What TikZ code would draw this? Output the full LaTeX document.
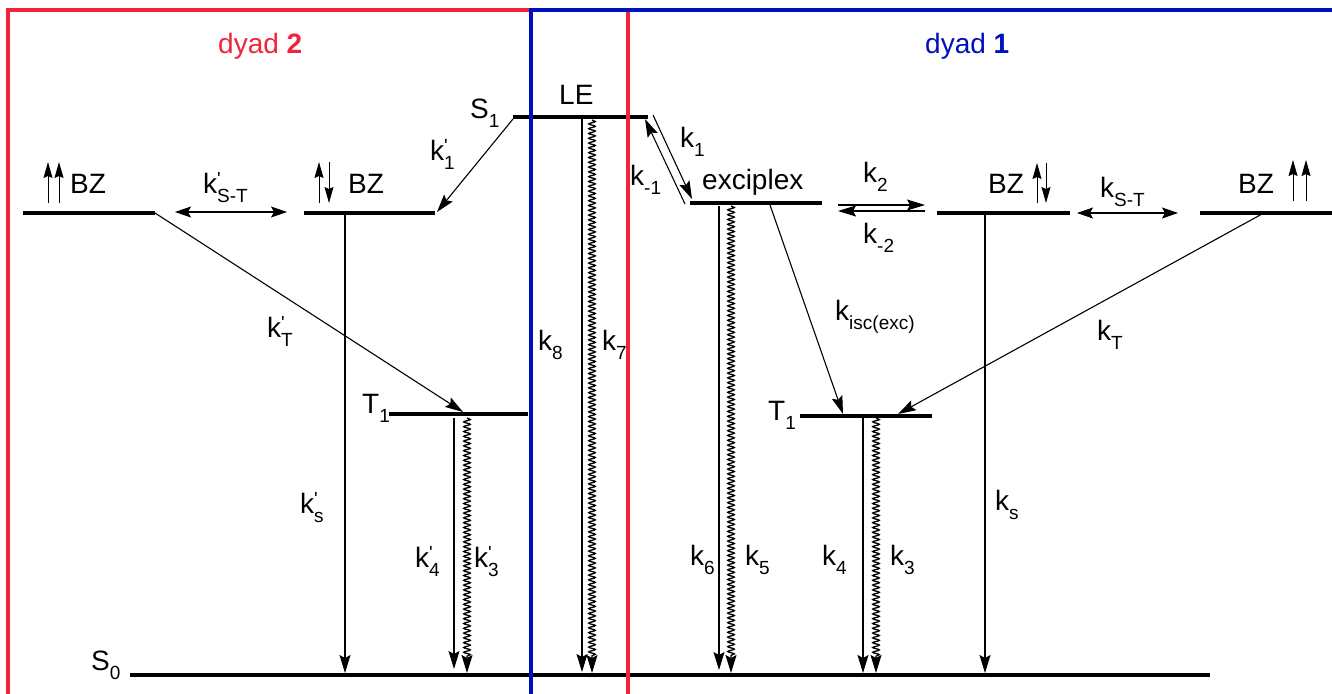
\documentclass[tikz,border=0pt]{standalone}
\usepackage{fontspec}
\setmainfont{Liberation Sans}
\usetikzlibrary{arrows.meta,decorations.pathmorphing}
\definecolor{dred}{RGB}{240,36,60}
\definecolor{dblue}{RGB}{0,16,190}
\newcommand{\sbs}[1]{\raisebox{-0.34em}{\fontsize{19}{19}\selectfont #1}}
\newcommand{\kpr}[1]{k\rlap{\raisebox{0.27em}{\fontsize{19}{19}\selectfont\textquotesingle}}\sbs{#1}}
\newcommand{\ksb}[1]{k\sbs{#1}}
\tikzset{
  level/.style={line width=3.4pt},
  boxline/.style={line width=3.4pt},
  tip/.style={-{Stealth[length=18pt,width=11pt,inset=3pt]}},
  arr/.style={line width=1.1pt,tip},
  darr/.style={line width=1.1pt,{Stealth[length=16pt,width=11pt,inset=3pt]}-{Stealth[length=16pt,width=11pt,inset=3pt]}},
  wavy/.style={line width=1.3pt,tip,decorate,
    decoration={snake,amplitude=3.3pt,segment length=4.8pt,post length=16pt}},
  spin/.style={line width=1pt,-{Stealth[length=16pt,width=9pt,inset=2pt]}},
  lbl/.style={inner sep=0pt,anchor=base west,font=\fontsize{28}{30}\selectfont},
}
\begin{document}
\begin{tikzpicture}[x=1pt,y=-1pt]
\useasboundingbox (0,0) rectangle (1332,693);
% ---- level end points
\coordinate (S1a) at (513,117); \coordinate (S1b) at (648,117);
\coordinate (BLa) at (23,213);  \coordinate (BLb) at (155,213);
\coordinate (BMa) at (304,213); \coordinate (BMb) at (435,213);
\coordinate (TLa) at (389,414); \coordinate (TLb) at (528,414);
\coordinate (EXa) at (690,203); \coordinate (EXb) at (822,203);
\coordinate (BRa) at (937,213); \coordinate (BRb) at (1070,213);
\coordinate (BTa) at (1200,213);\coordinate (BTb) at (1332,213);
\coordinate (TRa) at (800,416); \coordinate (TRb) at (932,416);
\coordinate (S0a) at (130,675); \coordinate (S0b) at (1210,675);
% ---- levels
\draw[level] (S1a) -- (S1b);
\draw[level] (BLa) -- (BLb);
\draw[level] (BMa) -- (BMb);
\draw[level] (TLa) -- (TLb);
\draw[level] (EXa) -- (EXb);
\draw[level] (BRa) -- (BRb);
\draw[level] (BTa) -- (BTb);
\draw[level] (TRa) -- (TRb);
\draw[level] (S0a) -- (S0b);
% ---- connector end points
\coordinate (k1p0) at (513,119); \coordinate (k1p1) at (437,212);
\coordinate (kTp1) at (463,412);
\coordinate (kSTp0) at (175,212); \coordinate (kSTp1) at (287,212);
\coordinate (ksp0) at (345,215);  \coordinate (ksp1) at (345,673);
\coordinate (k4p0) at (454,418);  \coordinate (k4p1) at (454,669);
\coordinate (k3p0) at (467,418);  \coordinate (k3p1) at (467,673);
\coordinate (k80) at (582,119);   \coordinate (k81) at (582,672);
\coordinate (k70) at (592,120);   \coordinate (k71) at (592,673);
\coordinate (k10) at (653,115);   \coordinate (k11) at (692,199);
\coordinate (km10) at (685,204);  \coordinate (km11) at (645,119);
\coordinate (k20) at (838,205);   \coordinate (k21) at (925,205);
\coordinate (km20) at (925,211);  \coordinate (km21) at (838,211);
\coordinate (kST0) at (1077,213); \coordinate (kST1) at (1178,213);
\coordinate (kT0) at (1262,214);  \coordinate (kT1) at (898,414);
\coordinate (ki0) at (770,205);   \coordinate (ki1) at (843,414);
\coordinate (k60) at (719,206);   \coordinate (k61) at (719,670);
\coordinate (k50) at (731,206);   \coordinate (k51) at (731,673);
\coordinate (k40) at (863,418);   \coordinate (k41) at (863,673);
\coordinate (k30) at (876,418);   \coordinate (k31) at (876,673);
\coordinate (ks0) at (985,215);   \coordinate (ks1) at (985,673);
% ---- connectors
\draw[arr] (k1p0) -- (k1p1);
\draw[arr] (BLb) -- (kTp1);
\draw[darr] (kSTp0) -- (kSTp1);
\draw[arr] (ksp0) -- (ksp1);
\draw[arr] (k4p0) -- (k4p1);
\draw[wavy] (k3p0) -- (k3p1);
\draw[arr] (k80) -- (k81);
\draw[wavy] (k70) -- (k71);
\draw[arr] (k10) -- (k11);
\draw[arr] (km10) -- (km11);
\draw[arr] (k20) -- (k21);
\draw[arr] (km20) -- (km21);
\draw[darr] (kST0) -- (kST1);
\draw[arr] (kT0) -- (kT1);
\draw[arr] (ki0) -- (ki1);
\draw[arr] (k60) -- (k61);
\draw[wavy] (k50) -- (k51);
\draw[arr] (k40) -- (k41);
\draw[wavy] (k30) -- (k31);
\draw[arr] (ks0) -- (ks1);
% ---- spin arrows
\coordinate (sa1) at (48,203);  \coordinate (sa2) at (48,162);
\coordinate (sb1) at (59,203);  \coordinate (sb2) at (59,162);
\coordinate (sc1) at (319,203); \coordinate (sc2) at (319,162);
\coordinate (sd1) at (329,162); \coordinate (sd2) at (329,203);
\coordinate (se1) at (1037,203);\coordinate (se2) at (1037,163);
\coordinate (sf1) at (1046,163);\coordinate (sf2) at (1046,203);
\coordinate (sg1) at (1293,201);\coordinate (sg2) at (1293,160);
\coordinate (sh1) at (1306,201);\coordinate (sh2) at (1306,160);
\draw[spin] (sa1) -- (sa2); \draw[spin] (sb1) -- (sb2);
\draw[spin] (sc1) -- (sc2); \draw[spin] (sd1) -- (sd2);
\draw[spin] (se1) -- (se2); \draw[spin] (sf1) -- (sf2);
\draw[spin] (sg1) -- (sg2); \draw[spin] (sh1) -- (sh2);
% ---- boxes
\draw[boxline,dred] (8,700) -- (8,10) -- (628,10) -- (628,700);
\draw[boxline,dblue] (531,700) -- (531,10) -- (1345,10);
% ---- labels
\node[lbl,text=dred] (dy2) at (218,53) {dyad \textbf{2}};
\node[lbl,text=dblue] (dy1) at (925,53) {dyad \textbf{1}};
\node[lbl] (LE) at (559,104) {LE};
\node[lbl] (S1) at (470,118) {S\sbs{1}};
\node[lbl] (exc) at (702,189) {exciplex};
\node[lbl] (bz1) at (70,193) {BZ};
\node[lbl] (bz2) at (348,193) {BZ};
\node[lbl] (bz3) at (988,193) {BZ};
\node[lbl] (bz4) at (1238,193) {BZ};
\node[lbl] (T1L) at (362,413) {T\sbs{1}};
\node[lbl] (T1R) at (768,420) {T\sbs{1}};
\node[lbl] (S0) at (91,670) {S\sbs{0}};
\node[lbl] (lk1p) at (430,160) {\kpr{1}};
\node[lbl] (lk1) at (680,147) {\ksb{1}};
\node[lbl] (lkm1) at (630,185) {\ksb{-1}};
\node[lbl] (lk2) at (863,182) {\ksb{2}};
\node[lbl] (lkm2) at (863,243) {\ksb{-2}};
\node[lbl] (lkST) at (1100,197) {\ksb{S-T}};
\node[lbl] (lkSTp) at (203,193) {\kpr{S-T}};
\node[lbl] (lkTp) at (267,337) {\kpr{T}};
\node[lbl] (lkT) at (1097,340) {\ksb{T}};
\node[lbl] (lki) at (835,320) {\ksb{isc(exc)}};
\node[lbl] (lk8) at (538,350) {\ksb{8}};
\node[lbl] (lk7) at (602,350) {\ksb{7}};
\node[lbl] (lksp) at (300,513) {\kpr{s}};
\node[lbl] (lk4p) at (415,567) {\kpr{4}};
\node[lbl] (lk3p) at (474,567) {\kpr{3}};
\node[lbl] (lk6) at (690,565) {\ksb{6}};
\node[lbl] (lk5) at (745,565) {\ksb{5}};
\node[lbl] (lk4) at (822,565) {\ksb{4}};
\node[lbl] (lk3) at (890,565) {\ksb{3}};
\node[lbl] (lks) at (995,510) {\ksb{s}};
\end{tikzpicture}
\end{document}
